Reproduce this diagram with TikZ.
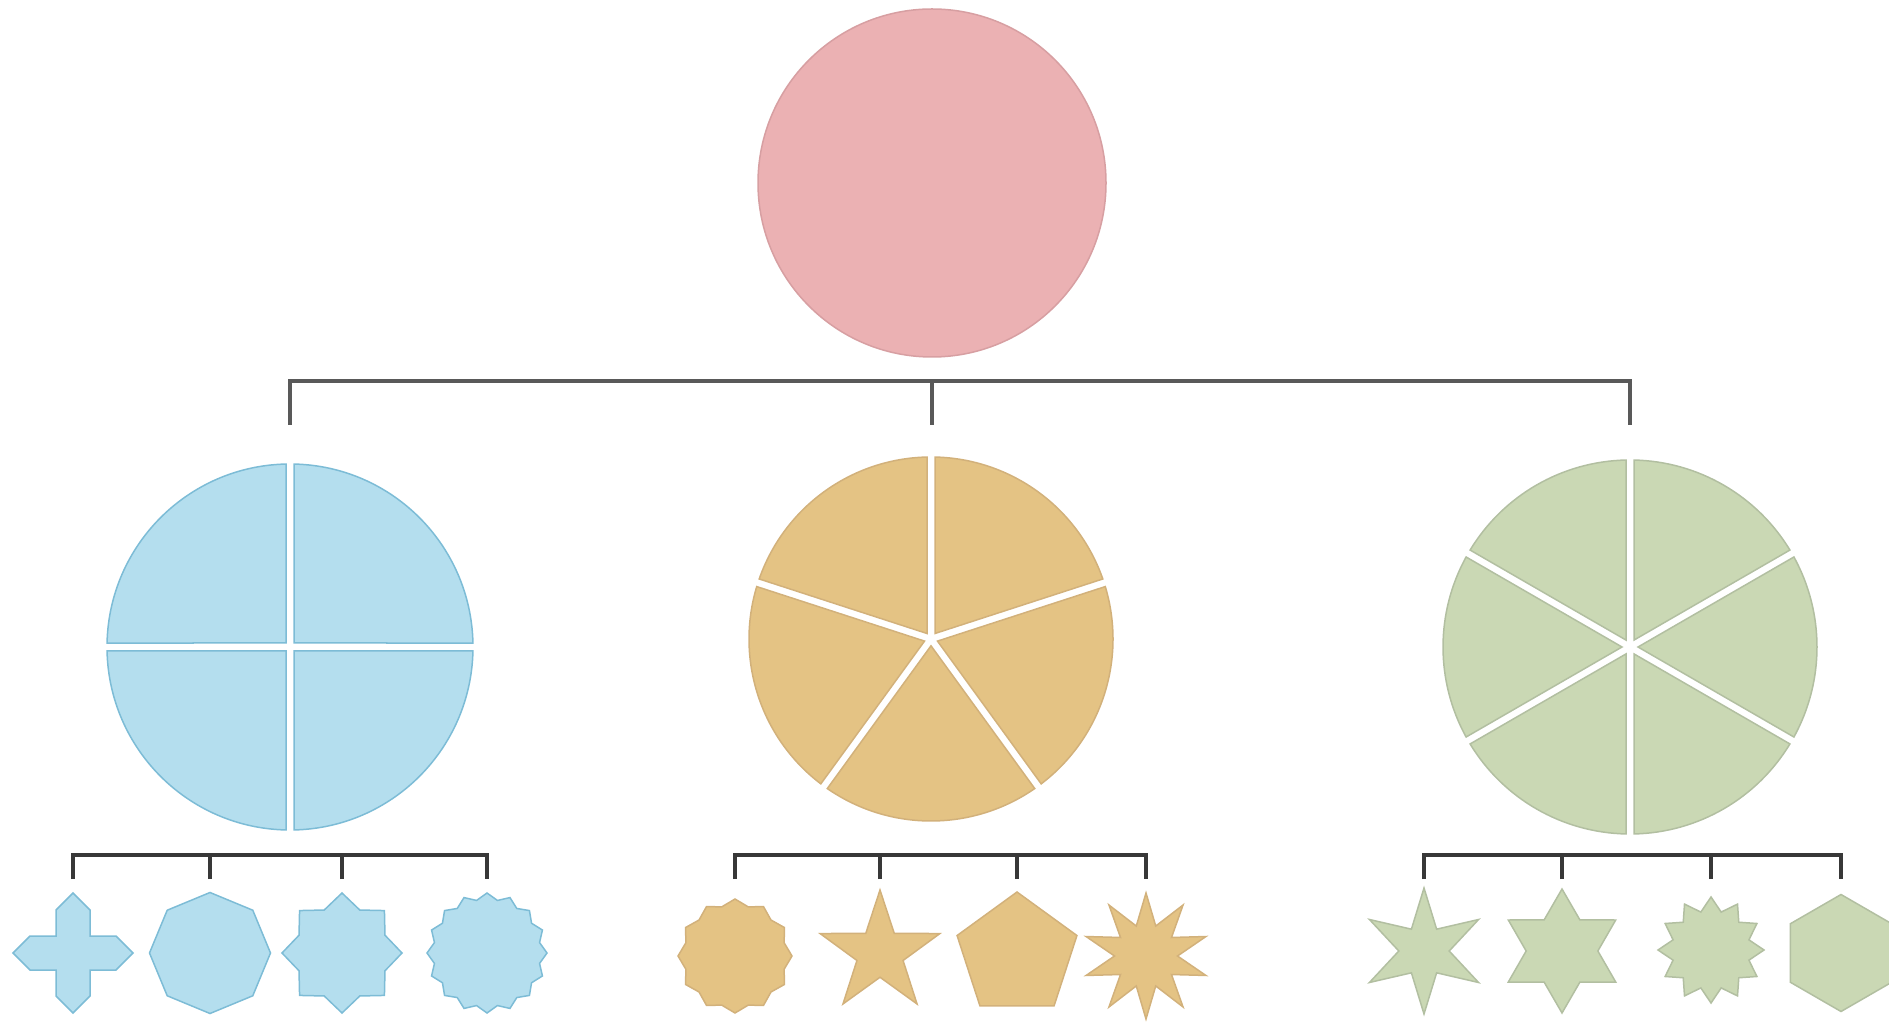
\documentclass[tikz,border=0pt]{standalone}
\usetikzlibrary{shapes.geometric,calc}

\definecolor{pinkfill}{HTML}{EBB1B3}
\definecolor{pinkline}{HTML}{D79FA2}
\definecolor{bluefill}{HTML}{B4DEEE}
\definecolor{blueline}{HTML}{7DBCD6}
\definecolor{orangefill}{HTML}{E4C384}
\definecolor{orangeline}{HTML}{D2B17B}
\definecolor{greenfill}{HTML}{CAD8B4}
\definecolor{greenline}{HTML}{B2BFA1}

\tikzset{
  topbar/.style={line width=4pt, draw=black!65},
  lowbar/.style={line width=3.5pt, draw=black!78},
  bluepart/.style={fill=bluefill, draw=blueline, line width=1.5pt, inner sep=0pt},
  orangepart/.style={fill=orangefill, draw=orangeline, line width=1.5pt, inner sep=0pt},
  greenpart/.style={fill=greenfill, draw=greenline, line width=1.5pt, inner sep=0pt}
}

% pie: centre node, radius, slices, first cut angle, style
\newcommand{\piechart}[5]{%
  \pgfmathsetmacro\pspan{360/#3}
  \pgfmathsetmacro\pdel{asin(4/#2)}
  \pgfmathsetmacro\poff{4/sin(\pspan/2)}
  \foreach \k in {1,...,#3}{
    \pgfmathsetmacro\pa{#4+(\k-1)*\pspan}
    \pgfmathsetmacro\pb{\pa+\pspan}
    \draw[#5] ($(#1)+(\pa+\pspan/2:\poff)$) -- ($(#1)+(\pa+\pdel:#2)$)
      arc[start angle=\pa+\pdel, end angle=\pb-\pdel, radius=#2] -- cycle;
  }
}

\begin{document}
\begin{tikzpicture}[x=1pt,y=1pt]
\useasboundingbox (0,0) rectangle (1889,1023);

% whole
\node[circle, minimum size=348, fill=pinkfill, draw=pinkline, line width=1.5pt] (root) at (932,840) {};

% parts
\node[circle, minimum size=366] (blue) at (290,376) {};
\node[circle, minimum size=364] (orange) at (931,384) {};
\node[circle, minimum size=374] (green) at (1630,376) {};
\piechart{blue}{183}{4}{0}{bluepart}
\piechart{orange}{182}{5}{90}{orangepart}
\piechart{green}{187}{6}{30}{greenpart}

\coordinate (tt) at (0,598);
\coordinate (tb) at (0,642);
\draw[topbar] (blue |- tt) |- (green |- tb) -- (green |- tt);
\draw[topbar] (root |- tb) -- (root |- tt);

% shapes
\coordinate (b1) at (73,70);
\draw[bluepart, shift={(b1)}] (0,60) -- (17,43) -- (17,17) -- (43,17) -- (60,0) -- (43,-17)
  -- (17,-17) -- (17,-43) -- (0,-60) -- (-17,-43) -- (-17,-17) -- (-43,-17) -- (-60,0)
  -- (-43,17) -- (-17,17) -- (-17,43) -- cycle;
\node[bluepart, regular polygon, regular polygon sides=8, shape border rotate=22.5, minimum size=121] (b2) at (210,70) {};
\node[bluepart, star, star points=8, star point ratio=1.29, minimum size=120] (b3) at (342,70) {};
\node[bluepart, star, star points=16, star point ratio=1.12, minimum size=120] (b4) at (487,70) {};

\node[orangepart, star, star points=12, star point ratio=1.12, minimum size=114] (o1) at (735,67) {};
\node[orangepart, star, star points=5, star point ratio=2.6, minimum size=126] (o2) at (880,70) {};
\node[orangepart, regular polygon, regular polygon sides=5, minimum size=126] (o3) at (1017,68) {};
\node[orangepart, star, star points=10, star point ratio=2, minimum size=126] (o4) at (1146,67) {};

\node[greenpart, star, star points=6, star point ratio=2.5, minimum size=126] (g1) at (1424,72) {};
\node[greenpart, star, star points=6, star point ratio=1.73, minimum size=124] (g2) at (1562,72) {};
\node[greenpart, star, star points=12, star point ratio=1.35, minimum size=106] (g3) at (1711,73) {};
\node[greenpart, regular polygon, regular polygon sides=6, shape border rotate=30, minimum size=117] (g4) at (1841,70) {};

\coordinate (bt) at (0,144);
\coordinate (bb) at (0,168);
\draw[lowbar] (b1 |- bt) |- (b4 |- bb) -- (b4 |- bt);
\draw[lowbar] (o1 |- bt) |- (o4 |- bb) -- (o4 |- bt);
\draw[lowbar] (g1 |- bt) |- (g4 |- bb) -- (g4 |- bt);
\foreach \n in {b2,b3,o2,o3,g2,g3}
  \draw[lowbar] (\n |- bt) -- (\n |- bb);
\end{tikzpicture}
\end{document}
